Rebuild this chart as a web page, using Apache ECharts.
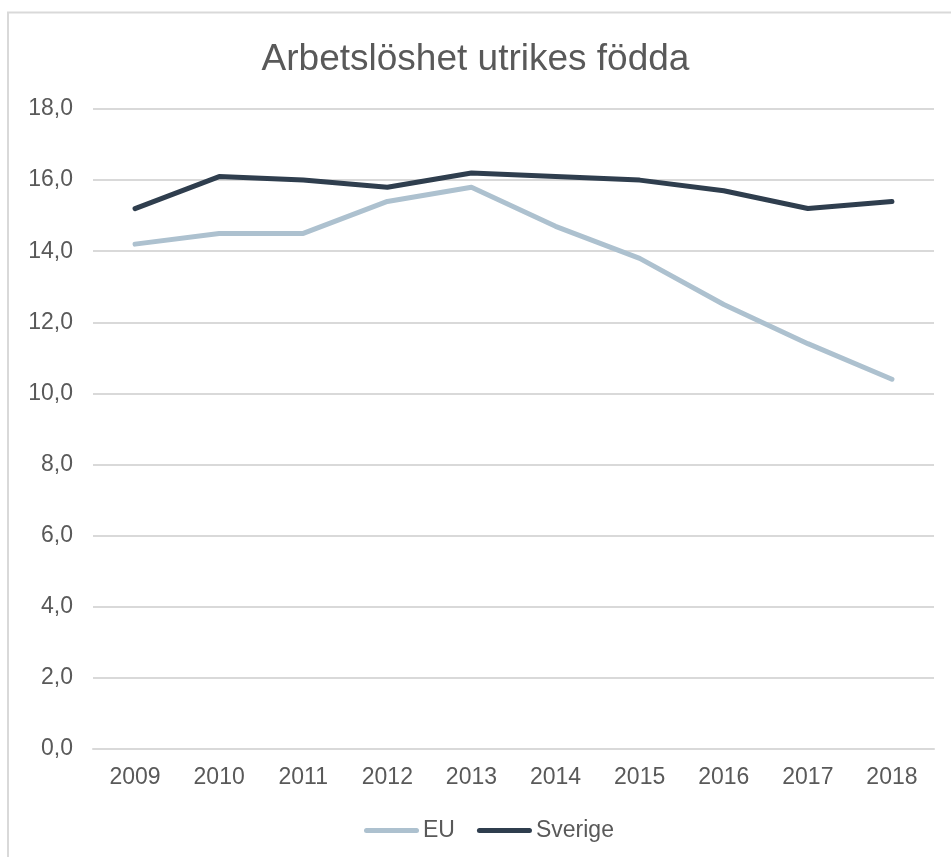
<!DOCTYPE html>
<html><head><meta charset="utf-8">
<script src="https://cdn.jsdelivr.net/npm/echarts@6/dist/echarts.min.js"></script>
<style>html,body{margin:0;padding:0;background:#fff}#c{width:951px;height:857px}</style>
</head><body><div id="c"></div>
<script>
const categories = ['2009','2010','2011','2012','2013','2014','2015','2016','2017','2018'];
const euValues = [14.2, 14.5, 14.5, 15.4, 15.8, 14.7, 13.8, 12.5, 11.4, 10.4];
const sverigeValues = [15.2, 16.1, 16.0, 15.8, 16.2, 16.1, 16.0, 15.7, 15.2, 15.4];
const title = 'Arbetslöshet utrikes födda';
const seriesNames = ['EU', 'Sverige'];

const chart = echarts.init(document.getElementById('c'));
const font = 'Liberation Sans, Arial, sans-serif';
const stadium = 'path://M5,0 H105 A5,5 0 0 1 105,10 H5 A5,5 0 0 1 5,0 Z';
chart.setOption({
  animation: false,
  graphic: [{type:'rect', shape:{x:8, y:12.5, width:1000, height:1000}, style:{fill:'none', stroke:'#D9D9D9', lineWidth:2}, silent:true}],
  title: {text: title, left: 'center', top: 36, textStyle:{fontFamily: font, fontSize: 37, fontWeight:'normal', color:'#595959'}},
  legend: {top: 814, left: 359, itemWidth: 55, itemHeight: 6, itemGap: 22,
    textStyle:{fontFamily: font, fontSize: 23, color:'#595959', padding:[0,0,0,-1]},
    data: [{name: seriesNames[0], icon: stadium}, {name: seriesNames[1], icon: stadium}]},
  grid: {left: 93, right: 17, top: 109, bottom: 108, containLabel: false},
  xAxis: {type:'category', data: categories, boundaryGap: true,
    axisLine:{lineStyle:{color:'#D9D9D9', width:2}}, axisTick:{show:false},
    axisLabel:{fontFamily: font, fontSize: 23, color:'#595959', margin: 17}},
  yAxis: {type:'value', min:0, max:18, interval:2,
    axisLine:{show:false}, axisTick:{show:false},
    splitLine:{lineStyle:{color:'#D9D9D9', width:2}},
    axisLabel:{fontFamily: font, fontSize: 23, color:'#595959', margin: 20,
      formatter: v => v.toFixed(1).replace('.', ',')}},
  series: [
    {name: seriesNames[0], type:'line', data: euValues, symbol:'none', lineStyle:{color:'#ADC1CF', width:5, cap:'round', join:'round'}, itemStyle:{color:'#ADC1CF'}},
    {name: seriesNames[1], type:'line', data: sverigeValues, symbol:'none', lineStyle:{color:'#2F3E4E', width:5, cap:'round', join:'round'}, itemStyle:{color:'#2F3E4E'}}
  ]
});
</script></body></html>
